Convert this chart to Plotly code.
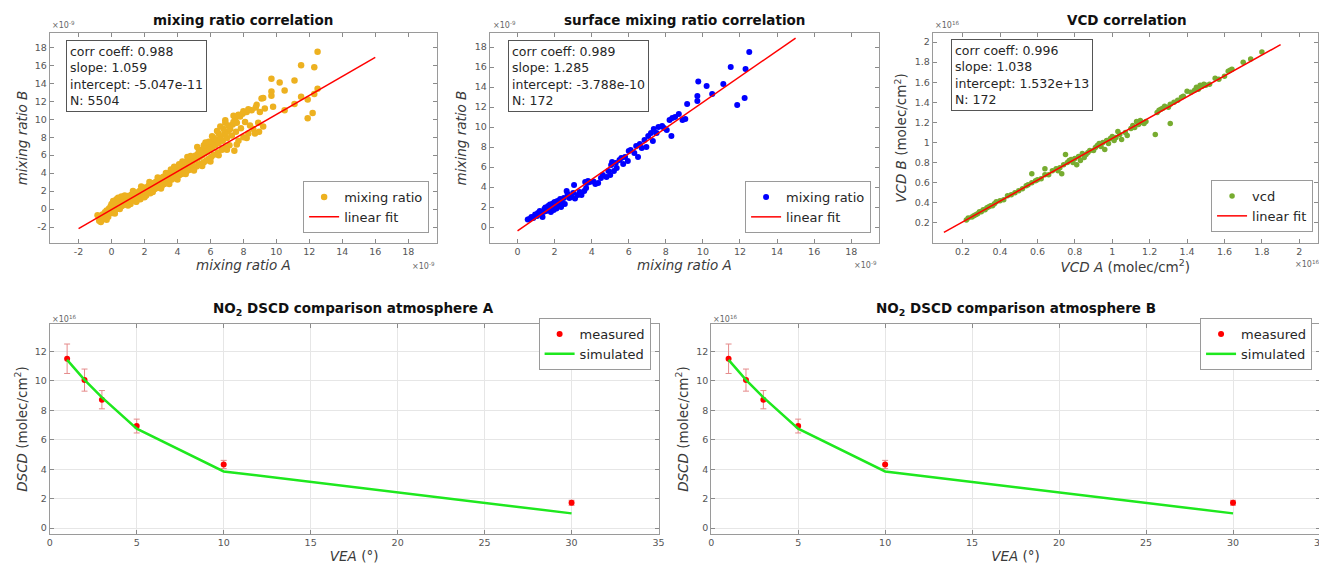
import plotly.graph_objects as go

# ---- data ----
# panel 1: all mixing ratios (x1e-9)
mr_a = [-0.75, -0.7, -0.6, -0.55, -0.5, -0.45, -0.4, -0.35, -0.3, -0.25, -0.2, -0.15, -0.1, -0.05, 0.0, 0.0,
        0.05, 0.1, 0.15, 0.2, 0.25, 0.3, 0.35, 0.4, 0.45, 0.5, 0.55, 0.6, 0.65, 0.7, 0.75, 0.8, 0.85, 0.9, 0.95,
        1.0, 1.05, 1.1, 1.15, 1.2, 1.25, 1.3, 1.35, 1.4, 1.45, 1.5, 1.55, 1.6, 1.65, 1.7, 1.75, 1.8, 1.85, 1.9,
        1.95, 2.0, 2.05, 2.1, 2.15, 2.2, 2.25, 2.3, 2.35, 2.4, 2.45, 2.5, 2.55, 2.6, 2.65, 2.7, 2.75, 2.8, 2.85,
        2.9, 2.95, 3.0, 3.05, 3.1, 3.15, 3.2, 3.25, 3.3, 3.35, 3.4, 3.45, 3.5, 3.55, 3.6, 3.65, 3.7, 3.75, 3.8,
        3.85, 3.9, 3.95, 4.0, 4.05, 4.1, 4.15, 4.2, 4.25, 4.3, 4.35, 4.4, 4.45, 4.5, 4.55, 4.6, 4.65, 4.7, 4.75,
        4.8, 4.85, 4.9, 4.95, 5.0, 5.05, 5.1, 5.15, 5.2, 5.25, 5.3, 5.35, 5.4, 5.45, 5.5, 5.55, 5.6, 5.65, 5.7,
        5.75, 5.8, 5.85, 5.9, 5.95, 6.0, 6.05, 6.1, 6.15, 6.2, 6.3, 6.35, 6.45, 6.5, 6.6, 6.7, 6.75, 6.85, 6.9,
        7.0, 7.05, 7.15, 7.2, 7.3, 7.35, 7.45, 7.5, 7.55, 7.6, 7.7, 7.8, 7.85, 7.95, 8.0, 8.1, 8.2, 8.3, 8.4,
        8.5, 8.6, 8.75, 8.9, 8.95, 9.0, 9.1, 9.2, 9.7, 10.2, 10.5, 9.7, 9.7, 9.8, 9.2, 10.5, 11.1, 11.5, 12.3,
        12.5, 12.5, 12.3, 11.9, 11.5, 11.9, 12.2, 11.1, 8.8, 9.3, 7.4, 6.9,
        0.3, 0.8, 1.3, 1.8, 2.3, 2.8, 3.3, 3.8, 4.3, 4.8, 5.3, 5.6, 5.9, 6.2, 6.5, 6.8, 7.1, 7.4, 7.7, 8.0, 8.3,
        0.5, 1.0, 1.5, 2.0, 2.5, 3.0, 3.5, 4.0, 4.5, 5.0, 5.5, 6.0, 6.5, 7.0, 7.6, 8.2, 8.7,
        -0.85, -0.65, -0.3, 0.2, 0.1, 0.4, 0.6, 5.2, 5.7, 6.1, 6.4, 4.6, 4.1, 3.6, 6.6, 6.9]
mr_b = [-1.3, -0.95, -1.25, -0.6, -0.85, -1.05, -0.35, -0.7, -0.15, -0.5, -0.85, 0.05, -0.35, 0.3, -0.1, 0.55,
        -0.45, 0.2, 0.7, -0.1, 0.4, 0.9, 0.05, 0.55, 0.25, 0.85, 1.05, 0.3, 0.65, 1.2, 0.45, 0.9, 1.3, 0.6, 1.05,
        1.45, 0.75, 1.2, 0.55, 1.6, 0.95, 1.35, 1.75, 1.05, 1.5, 0.85, 1.85, 1.25, 1.6, 2.0, 1.1, 1.75, 1.4, 2.2,
        1.6, 1.95, 2.4, 1.5, 2.1, 1.8, 2.6, 2.3, 1.75, 2.75, 2.05, 2.5, 2.9, 2.2, 2.65, 3.05, 2.35, 2.8, 3.2,
        2.45, 3.0, 3.45, 2.6, 3.15, 3.6, 2.8, 3.3, 3.75, 2.95, 3.5, 3.95, 3.1, 3.7, 4.15, 3.3, 3.85, 4.35, 3.45,
        4.05, 4.5, 3.6, 4.2, 4.7, 3.75, 4.4, 4.85, 3.9, 4.55, 5.05, 4.05, 4.75, 5.2, 4.2, 4.9, 5.4, 4.35, 5.1,
        5.55, 4.5, 5.25, 5.75, 4.6, 5.4, 5.95, 4.75, 5.6, 6.15, 4.9, 5.8, 6.4, 5.05, 6.0, 6.6, 5.2, 6.2, 6.85,
        5.4, 6.4, 7.05, 5.6, 6.6, 7.3, 5.8, 6.85, 7.5, 6.05, 7.1, 7.75, 6.3, 7.35, 8.0, 6.6, 7.6, 8.3, 6.85,
        7.9, 8.6, 7.1, 8.9, 8.2, 9.4, 6.5, 10.0, 8.6, 9.6, 7.6, 10.3, 9.0, 10.6, 8.0, 9.7, 10.8, 8.4, 9.3,
        11.0, 8.9, 11.3, 9.6, 8.6, 10.8, 12.3, 9.2, 14.5, 14.1, 13.2, 13.1, 12.6, 11.4, 12.35, 11.0, 14.3, 16.0, 15.8,
        17.5, 13.4, 12.8, 12.2, 12.5, 10.1, 10.7, 11.7, 11.6, 11.2, 10.4, 9.6,
        1.1, 1.5, 2.0, 2.5, 3.0, 3.5, 4.0, 4.7, 5.3, 5.9, 6.6, 7.1, 7.5, 7.9, 8.4, 8.9, 9.3, 9.7, 10.5, 10.9, 11.1,
        0.0, 0.4, 0.8, 1.3, 1.9, 2.3, 2.8, 3.3, 3.9, 4.3, 4.8, 5.3, 6.0, 6.6, 7.2, 7.9, 8.4,
        -0.7, -1.45, -1.2, -0.5, 0.9, 1.25, 1.4, 6.9, 7.4, 8.1, 8.7, 5.8, 5.0, 4.4, 9.2, 9.9]

# panel 2: surface mixing ratios (x1e-9)
smr_a = [0.55, 0.65, 0.75, 0.85, 0.95, 1.05, 1.1, 1.2, 1.25, 1.35, 1.4, 1.45, 1.5, 1.55, 1.65, 1.7, 1.75, 1.8,
         1.85, 1.9, 1.95, 2.0, 2.05, 2.1, 2.15, 2.2, 2.3, 2.35, 2.4, 2.5, 2.55, 2.65, 2.7, 2.8, 2.9, 3.0, 3.05,
         3.1, 3.25, 3.35, 3.45, 3.6, 3.65, 3.7, 3.75, 3.8, 3.9, 4.1, 4.2, 4.35, 4.5, 4.6, 4.8, 4.9, 5.0, 5.05,
         5.1, 5.2, 5.3, 5.35, 5.5, 5.6, 5.7, 5.8, 5.95, 6.0, 6.1, 6.3, 6.4, 6.5, 6.6, 6.7, 6.85, 6.95, 7.05,
         7.2, 7.3, 7.35, 7.5, 7.6, 7.8, 7.9, 8.05, 8.2, 8.3, 8.35, 8.5, 8.7, 8.9, 9.05, 9.15, 9.7, 9.7, 9.75,
         10.2, 10.5, 11.1, 11.5, 11.85, 12.25, 12.3, 12.5]
smr_b = [0.75, 0.8, 1.0, 0.9, 1.25, 1.1, 1.4, 1.6, 1.3, 1.0, 1.5, 1.8, 1.95, 1.6, 2.1, 1.75, 2.25, 1.5,
         2.0, 2.35, 1.7, 2.5, 2.1, 1.85, 2.6, 2.3, 2.8, 2.0, 2.45, 2.9, 2.3, 3.6, 3.3, 2.9, 3.0, 3.4, 4.2,
         2.85, 3.2, 3.5, 3.2, 3.6, 4.5, 3.9, 4.4, 4.6, 4.5, 4.55, 4.3, 4.4, 4.9, 5.2, 5.0, 5.6, 5.2, 6.2,
         6.5, 5.6, 6.4, 5.9, 6.7, 6.9, 6.3, 7.0, 6.6, 7.6, 7.7, 7.4, 8.1, 7.0, 8.3, 7.9, 8.7, 8.0, 9.1,
         9.4, 8.6, 9.8, 9.4, 10.0, 10.1, 9.9, 9.7, 10.7, 9.1, 10.9, 11.0, 11.3, 10.7, 10.8, 12.3, 12.6, 13.1, 14.55,
         14.1, 13.3, 14.3, 16.0, 12.2, 12.9, 15.8, 17.5]

# panel 3: VCD (x1e16 molec/cm2)
vcd_a = [0.22, 0.23, 0.25, 0.26, 0.27, 0.28, 0.29, 0.30, 0.31, 0.32, 0.33, 0.34, 0.35, 0.36, 0.37, 0.38, 0.40,
         0.42, 0.44, 0.46, 0.48, 0.50, 0.52, 0.54, 0.55, 0.57, 0.57, 0.59, 0.60, 0.62, 0.64, 0.64, 0.66, 0.68,
         0.70, 0.71, 0.72, 0.73, 0.74, 0.75, 0.76, 0.77, 0.78, 0.79, 0.80, 0.81, 0.82, 0.83, 0.84, 0.85, 0.86,
         0.87, 0.88, 0.90, 0.91, 0.92, 0.93, 0.94, 0.95, 0.96, 0.97, 0.98, 0.99, 1.00, 1.01, 1.02, 1.03, 1.04,
         1.05, 1.07, 1.08, 1.10, 1.11, 1.12, 1.13, 1.14, 1.15, 1.16, 1.17, 1.18, 1.23, 1.24, 1.25, 1.26, 1.27,
         1.28, 1.30, 1.31, 1.31, 1.33, 1.35, 1.37, 1.38, 1.40, 1.42, 1.44, 1.45, 1.46, 1.47, 1.48, 1.49, 1.50,
         1.52, 1.55, 1.57, 1.60, 1.62, 1.63, 1.64, 1.70, 1.74, 1.80]
vcd_b = [0.23, 0.25, 0.26, 0.27, 0.28, 0.29, 0.31, 0.31, 0.33, 0.33, 0.35, 0.36, 0.37, 0.37, 0.39, 0.41, 0.42,
         0.43, 0.47, 0.48, 0.50, 0.52, 0.54, 0.57, 0.58, 0.60, 0.69, 0.62, 0.63, 0.64, 0.68, 0.74, 0.68, 0.72,
         0.74, 0.72, 0.75, 0.69, 0.78, 0.88, 0.80, 0.82, 0.83, 0.80, 0.84, 0.78, 0.86, 0.82, 0.89, 0.85, 0.88,
         0.90, 0.92, 0.92, 0.95, 0.97, 0.99, 0.96, 1.00, 0.93, 1.02, 0.99, 1.04, 1.06, 1.02, 1.05, 1.11, 1.08,
         1.03, 1.10, 1.07, 1.14, 1.17, 1.15, 1.21, 1.18, 1.22, 1.20, 1.19, 1.21, 1.08, 1.30, 1.32, 1.33, 1.34,
         1.36, 1.35, 1.19, 1.38, 1.40, 1.42, 1.45, 1.46, 1.51, 1.50, 1.52, 1.55, 1.53, 1.57, 1.56, 1.58, 1.57,
         1.58, 1.64, 1.63, 1.66, 1.71, 1.72, 1.73, 1.80, 1.83, 1.90]

# linear fits as given in the boxes
fit1 = dict(slope=1.059, intercept=-5.047e-11 * 1e9, x=[-2, 16])
fit2 = dict(slope=1.285, intercept=-3.788e-10 * 1e9, x=[0, 15])
fit3 = dict(slope=1.038, intercept=1.532e13 / 1e16, x=[0.1, 1.9])

# DSCD comparison (x1e16 molec/cm2)
vea = [1, 2, 3, 5, 10, 30]
dscd_meas = [11.5, 10.05, 8.72, 6.93, 4.32, 1.72]
dscd_err = [1.0, 0.75, 0.62, 0.47, 0.28, 0.17]
dscd_sim = [11.42, 10.07, 8.88, 6.75, 3.85, 1.0]

FONT = "DejaVu Sans"
# the page body has an 8px margin, so the figure is shifted by 8px
OFF = 8
W, H = 1327 - OFF, 564 - OFF


def px(x):
    return (x - OFF) / W


def py(y):
    return 1 - (y - OFF) / H


fig = go.Figure()


def line_y(f):
    return [f["slope"] * v + f["intercept"] for v in f["x"]]


fig.add_trace(go.Scatter(x=mr_a, y=mr_b, mode="markers", name="mixing ratio",
                         marker=dict(color="#EDB120", size=6.5), xaxis="x", yaxis="y", legend="legend"))
fig.add_trace(go.Scatter(x=fit1["x"], y=line_y(fit1), mode="lines", name="linear fit",
                         line=dict(color="#ff0000", width=1.5), xaxis="x", yaxis="y", legend="legend"))

fig.add_trace(go.Scatter(x=smr_a, y=smr_b, mode="markers", name="mixing ratio",
                         marker=dict(color="#0000ff", size=6), xaxis="x2", yaxis="y2", legend="legend2"))
fig.add_trace(go.Scatter(x=fit2["x"], y=line_y(fit2), mode="lines", name="linear fit",
                         line=dict(color="#ff0000", width=1.5), xaxis="x2", yaxis="y2", legend="legend2"))

fig.add_trace(go.Scatter(x=vcd_a, y=vcd_b, mode="markers", name="vcd",
                         marker=dict(color="#77AC30", size=5.5), xaxis="x3", yaxis="y3", legend="legend3"))
fig.add_trace(go.Scatter(x=fit3["x"], y=line_y(fit3), mode="lines", name="linear fit",
                         line=dict(color="#ff0000", width=1.5), xaxis="x3", yaxis="y3", legend="legend3"))

for xa, ya, lg in [("x4", "y4", "legend4"), ("x5", "y5", "legend5")]:
    fig.add_trace(go.Scatter(x=vea, y=dscd_meas, mode="markers", name="measured",
                             marker=dict(color="#ff0000", size=6),
                             error_y=dict(type="data", array=dscd_err, color="#e58a8a", thickness=1, width=3),
                             xaxis=xa, yaxis=ya, legend=lg))
    fig.add_trace(go.Scatter(x=vea, y=dscd_sim, mode="lines", name="simulated",
                             line=dict(color="#1ee81e", width=2.5), xaxis=xa, yaxis=ya, legend=lg))


def axis(domain, rng, ticks, anchor, title, grid=False, standoff=4):
    return dict(domain=domain, range=rng, anchor=anchor,
                tickmode="array", tickvals=ticks, ticktext=["%g" % t for t in ticks],
                ticks="inside", ticklen=4, tickcolor="#8a8a8a",
                showline=True, linecolor="#9a9a9a", linewidth=1, mirror="ticks",
                showgrid=grid, gridcolor="#e6e6e6", gridwidth=1, zeroline=False,
                tickfont=dict(family=FONT, size=9.5, color="#555555"),
                title=dict(text=title, font=dict(family=FONT, size=13.5, color="#3a3a3a"), standoff=standoff))


top_y = [py(243), py(33)]
bot_y = [py(534), py(324)]

mr_ticks = list(range(-2, 20, 2))
smr_ticks = list(range(0, 20, 2))
vcd_ticks = [0.2, 0.4, 0.6, 0.8, 1, 1.2, 1.4, 1.6, 1.8, 2]
vea_ticks = [0, 5, 10, 15, 20, 25, 30, 35]
dscd_ticks = [0, 2, 4, 6, 8, 10, 12]

layout = dict(
    width=W, height=H, margin=dict(l=0, r=0, t=0, b=0),
    paper_bgcolor="white", plot_bgcolor="white",
    font=dict(family=FONT, color="#333333"),
    xaxis=axis([px(47), px(437)], [-3.75, 19.75], mr_ticks, "y", "<i>mixing ratio A</i>"),
    yaxis=axis(top_y, [-3.78, 19.6], mr_ticks, "x", "<i>mixing ratio B</i>"),
    xaxis2=axis([px(490), px(882)], [-1.5, 19.5], smr_ticks, "y2", "<i>mixing ratio A</i>"),
    yaxis2=axis(top_y, [-1.6, 19.4], smr_ticks, "x2", "<i>mixing ratio B</i>"),
    xaxis3=axis([px(936), px(1324)], [0.04, 2.1], vcd_ticks, "y3", "<i>VCD A</i> (molec/cm<sup>2</sup>)"),
    yaxis3=axis(top_y, [0.0, 2.09], vcd_ticks, "x3", "<i>VCD B</i> (molec/cm<sup>2</sup>)"),
    xaxis4=axis([px(47), px(660)], [0, 35], vea_ticks, "y4", "<i>VEA</i> (°)", grid=True),
    yaxis4=axis(bot_y, [-0.4, 13.86], dscd_ticks, "x4", "<i>DSCD</i> (molec/cm<sup>2</sup>)", grid=True),
    xaxis5=axis([px(713), px(1326)], [0, 35], vea_ticks, "y5", "<i>VEA</i> (°)", grid=True),
    yaxis5=axis(bot_y, [-0.4, 13.86], dscd_ticks, "x5", "<i>DSCD</i> (molec/cm<sup>2</sup>)", grid=True),
)

leg_font = dict(family=FONT, size=13, color="#262626")


def legend(xr, yb):
    return dict(x=px(xr), y=py(yb), xanchor="right", yanchor="bottom", xref="paper", yref="paper",
                bgcolor="white", bordercolor="#9a9a9a", borderwidth=1, font=leg_font,
                itemwidth=30, tracegroupgap=0)


layout["legend"] = legend(429, 233)
layout["legend2"] = legend(874, 233)
layout["legend3"] = legend(1319, 232)
layout["legend4"] = legend(652, 370)
layout["legend5"] = legend(1318, 370)
fig.update_layout(**layout)

ann = []
# titles
for cx, cy, t in [(242, 20, "mixing ratio correlation"), (686, 20, "surface mixing ratio correlation"),
                  (1132, 20, "VCD correlation"),
                  (353, 309, "NO<sub>2</sub> DSCD comparison atmosphere A"),
                  (1020, 309, "NO<sub>2</sub> DSCD comparison atmosphere B")]:
    ann.append(dict(x=px(cx), y=py(cy), xref="paper", yref="paper", text="<b>%s</b>" % t, showarrow=False,
                    xanchor="center", yanchor="middle", font=dict(family=FONT, size=13.5, color="#111111")))

# stats boxes
for lx, ty, txt in [(63, 40, "corr coeff: 0.988<br>slope: 1.059<br>intercept: -5.047e-11<br>N: 5504"),
                    (508, 40, "corr coeff: 0.989<br>slope: 1.285<br>intercept: -3.788e-10<br>N: 172"),
                    (954, 39, "corr coeff: 0.996<br>slope: 1.038<br>intercept: 1.532e+13<br>N: 172")]:
    ann.append(dict(x=px(lx), y=py(ty), xref="paper", yref="paper", text=txt, showarrow=False, align="left",
                    xanchor="left", yanchor="top", bgcolor="white", bordercolor="#555555", borderwidth=1,
                    borderpad=3, font=dict(family=FONT, size=12.5, color="#262626")))

# axis exponent labels
for x, y, t, xa in [(47, 25, "×10<sup>-9</sup>", "left"), (437, 266, "×10<sup>-9</sup>", "right"),
                    (491, 25, "×10<sup>-9</sup>", "left"), (882, 265, "×10<sup>-9</sup>", "right"),
                    (936, 25, "×10<sup>16</sup>", "left"), (1327, 264, "×10<sup>16</sup>", "right"),
                    (47, 319, "×10<sup>16</sup>", "left"), (713, 319, "×10<sup>16</sup>", "left")]:
    ann.append(dict(x=px(x), y=py(y), xref="paper", yref="paper", text=t, showarrow=False,
                    xanchor=xa, yanchor="middle", font=dict(family=FONT, size=8, color="#666666")))

fig.update_layout(annotations=ann)

fig.write_html("out.html")
